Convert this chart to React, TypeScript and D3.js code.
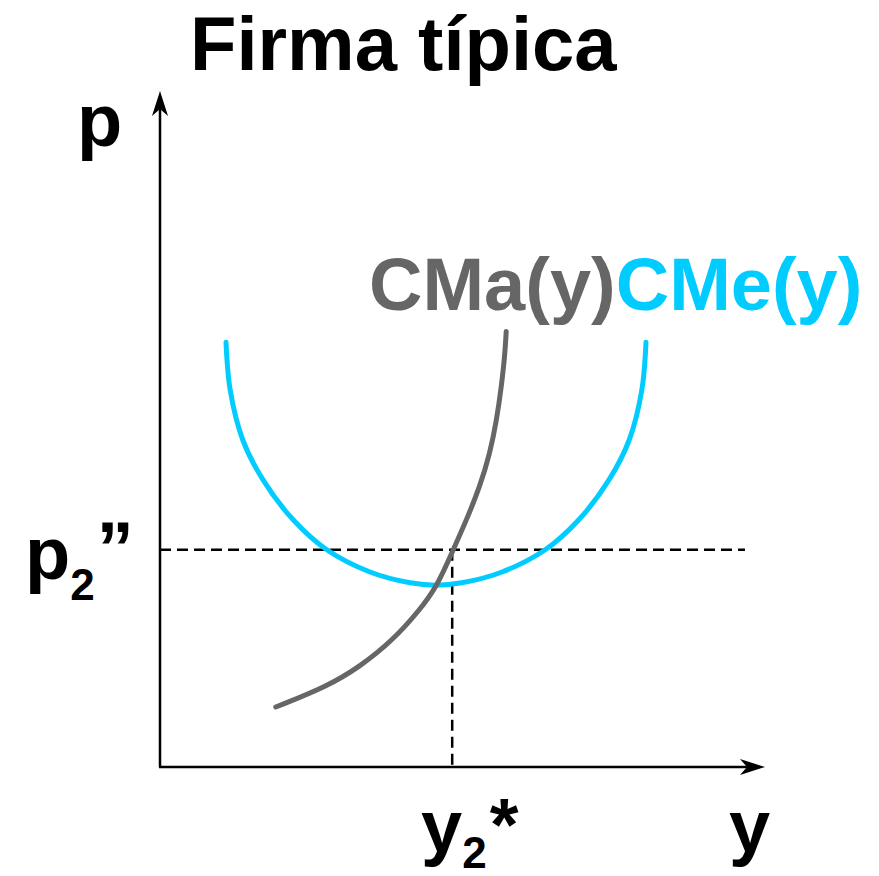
import React from 'react';
import * as d3 from 'd3';

const width = 879;
const height = 876;

// curves (data units: 0..100 on both axes)
const cmeX = [11, 11.7, 13.8, 17.2, 22.2, 27.8, 35, 41.7, 46, 50.3, 57, 64.2, 69.8, 74.8, 78.2, 80.3, 81];
const cmeY = [70.8, 62.8, 54.5, 47.8, 41.2, 36.2, 32.5, 30.7, 30.3, 30.7, 32.5, 36.2, 41.2, 47.8, 54.5, 62.8, 70.8];

const cmaX = [19.3, 27.8, 33.3, 38.9, 43.3, 46.1, 48.6, 51.1, 53.3, 55, 56.1, 56.9, 57.5, 57.7];
const cmaY = [10, 13.4, 16.7, 21.2, 26.2, 30, 35.6, 41.2, 46.7, 52.3, 57.8, 63.4, 68.9, 72.6];

const priceLevel = 36.2; // p2''
const quantityLevel = 48.7; // y2*
const dashEnd = 97.5;

const font = '"Liberation Sans", Arial, sans-serif';
const grey = '#666666';
const cyan = '#00ccff';

const x = d3.scaleLinear().domain([0, 100]).range([160, 760]);
const y = d3.scaleLinear().domain([0, 100]).range([767, 167]);

const makeLine = (curve: d3.CurveFactory) =>
  d3
    .line<[number, number]>()
    .x(d => x(d[0]))
    .y(d => y(d[1]))
    .curve(curve);

const zip = (a: number[], b: number[]) => a.map((v, i) => [v, b[i]] as [number, number]);

export default function App() {
  const x0 = x(0);
  const y0 = y(0);
  const xEnd = 765;
  const yTop = 91;

  return (
    <svg
      width={width}
      height={height}
      style={{ position: 'absolute', left: 0, top: 0, background: '#fff' }}
      fontFamily={font}
      fontWeight="bold"
    >
      {/* title */}
      <text x={190} y={70} fontSize={76}>Firma típica</text>

      {/* axes */}
      <line x1={x0} y1={y0} x2={x0} y2={yTop + 10} stroke="#000" strokeWidth={2.5} />
      <line x1={x0 - 1} y1={y0} x2={xEnd - 10} y2={y0} stroke="#000" strokeWidth={2.5} />
      <path
        d={`M${x0},${yTop} L${x0 + 8},${yTop + 25} L${x0},${yTop + 18} L${x0 - 8},${yTop + 25} Z`}
        fill="#000"
      />
      <path
        d={`M${xEnd},${y0} L${xEnd - 25},${y0 - 8} L${xEnd - 18},${y0} L${xEnd - 25},${y0 + 8} Z`}
        fill="#000"
      />

      {/* dashed guides */}
      <line
        x1={x0}
        y1={y(priceLevel)}
        x2={x(dashEnd)}
        y2={y(priceLevel)}
        stroke="#000"
        strokeWidth={2.5}
        strokeDasharray="11 6"
      />
      <line
        x1={x(quantityLevel)}
        y1={y(priceLevel)}
        x2={x(quantityLevel)}
        y2={y0}
        stroke="#000"
        strokeWidth={2.5}
        strokeDasharray="11 6"
      />

      {/* curves */}
      <path
        d={makeLine(d3.curveCatmullRom)(zip(cmeX, cmeY)) || ''}
        fill="none"
        stroke={cyan}
        strokeWidth={5}
        strokeLinecap="round"
      />
      <path
        d={makeLine(d3.curveBasis)(zip(cmaX, cmaY)) || ''}
        fill="none"
        stroke={grey}
        strokeWidth={5}
        strokeLinecap="round"
      />

      {/* labels */}
      <text x={369} y={310} fontSize={74}>
        <tspan fill={grey}>CMa(y)</tspan>
        <tspan fill={cyan}>CMe(y)</tspan>
      </text>

      <text x={77} y={146} fontSize={74}>p</text>

      <text x={25} y={579} fontSize={74}>
        p
        <tspan fontSize={44} dy={21}>2</tspan>
        <tspan dx={2} dy={-26}>”</tspan>
      </text>

      <text x={421} y={852} fontSize={74}>
        y
        <tspan fontSize={44} dy={16}>2</tspan>
        <tspan dx={3} dy={-18}>*</tspan>
      </text>

      <text x={729} y={852} fontSize={74}>y</text>
    </svg>
  );
}
